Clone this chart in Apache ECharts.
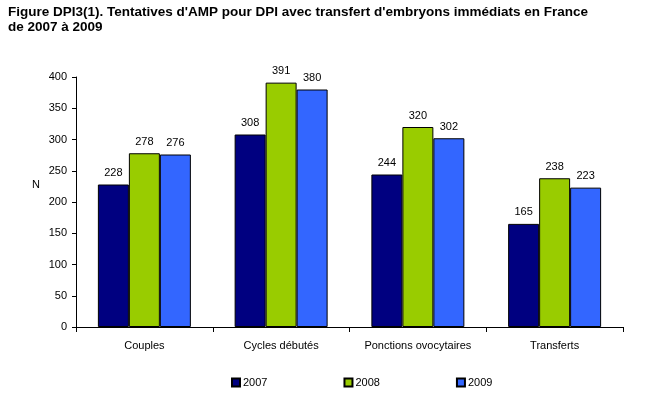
<!DOCTYPE html>
<html>
<head>
<meta charset="utf-8">
<script src="https://cdn.jsdelivr.net/npm/echarts@6/dist/echarts.min.js"></script>
<style>
  html, body { margin: 0; padding: 0; background: #fff; }
  #chart { width: 650px; height: 398px; }
</style>
</head>
<body>
<div id="chart"></div>
<script>
const categories = ['Couples', 'Cycles débutés', 'Ponctions ovocytaires', 'Transferts'];
const years = ['2007', '2008', '2009'];
const values2007 = [228, 308, 244, 165];
const values2008 = [278, 391, 320, 238];
const values2009 = [276, 380, 302, 223];
const yTicks = [0, 50, 100, 150, 200, 250, 300, 350, 400];

const colors = ['#000080', '#99CC00', '#3366FF'];
const seriesValues = [values2007, values2008, values2009];
const font = 'Liberation Sans, Arial, sans-serif';

const chart = echarts.init(document.getElementById('chart'), null, { renderer: 'canvas' });

chart.setOption({
  animation: false,
  textStyle: { fontFamily: font },
  title: {
    text: "Figure DPI3(1). Tentatives d'AMP pour DPI avec transfert d'embryons immédiats en France\nde 2007 à 2009",
    left: 8,
    top: 5,
    padding: 0,
    textStyle: { fontSize: 13.5, fontWeight: 'bold', color: '#000', lineHeight: 15, fontFamily: font }
  },
  grid: { left: 76, right: 27, top: 77, bottom: 71, containLabel: false },
  legend: {
    data: years,
    left: 226,
    top: 372,
    itemWidth: 8,
    itemHeight: 8,
    itemGap: 76,
    icon: 'rect',
    textStyle: { fontSize: 11, color: '#000', padding: [0, 0, 0, -2] }
  },
  xAxis: {
    type: 'category',
    data: categories,
    axisLine: { lineStyle: { color: '#000', width: 1 } },
    axisTick: { show: true, interval: 0, length: 5, lineStyle: { color: '#000' } },
    axisLabel: { color: '#000', fontSize: 11, margin: 13, interval: 0 }
  },
  yAxis: {
    type: 'value',
    min: yTicks[0],
    max: yTicks[yTicks.length - 1],
    interval: 50,
    splitLine: { show: false },
    axisLine: { show: true, lineStyle: { color: '#000', width: 1 } },
    axisTick: { show: true, length: 4, lineStyle: { color: '#000' } },
    axisLabel: { color: '#000', fontSize: 11, margin: 9 }
  },
  graphic: [{
    type: 'text',
    left: 32,
    top: 179,
    style: { text: 'N', fontSize: 11, fill: '#000', fontFamily: font }
  }],
  series: years.map((y, i) => ({
    name: y,
    type: 'bar',
    data: seriesValues[i],
    barGap: '0%',
    barCategoryGap: '32%',
    itemStyle: { color: colors[i], borderColor: '#000', borderWidth: 1 },
    label: { show: true, position: 'top', distance: 6, color: '#000', fontSize: 11 }
  }))
});
</script>
</body>
</html>
